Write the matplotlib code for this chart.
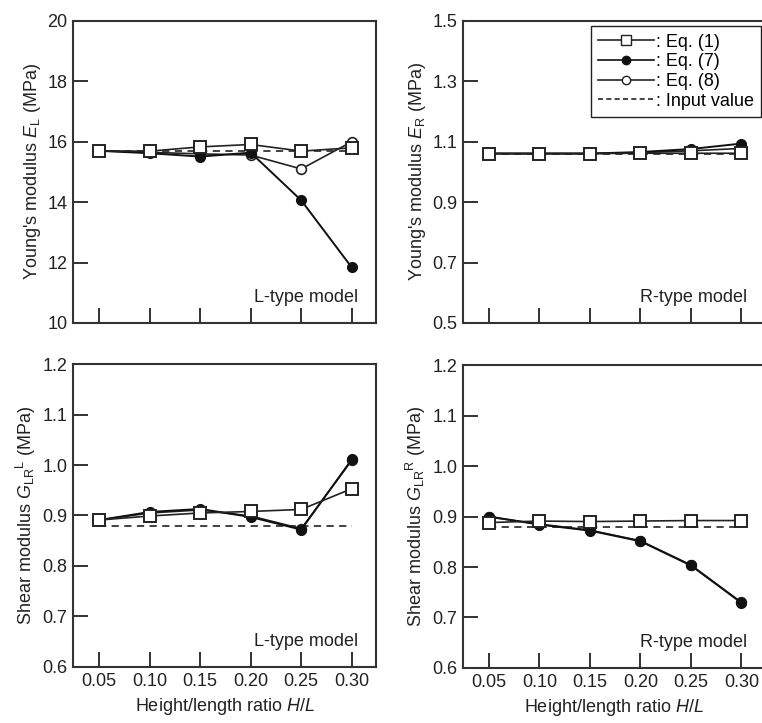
import matplotlib
matplotlib.use('Agg')
import matplotlib.pyplot as plt
from matplotlib.lines import Line2D

plt.rcParams['font.family'] = ['Liberation Sans', 'DejaVu Sans']
plt.rcParams['mathtext.fontset'] = 'custom'
plt.rcParams['mathtext.rm'] = 'Liberation Sans'
plt.rcParams['mathtext.it'] = 'Liberation Sans:italic'
plt.rcParams['font.size'] = 13

# Height/length ratio H/L
hl = [0.05, 0.10, 0.15, 0.20, 0.25, 0.30]

# Young's modulus E_L, L-type model (MPa)
el_eq1 = [15.69, 15.69, 15.83, 15.91, 15.69, 15.80]
el_eq7 = [15.70, 15.62, 15.51, 15.64, 14.06, 11.84]
el_eq8 = [15.70, 15.65, 15.60, 15.56, 15.10, 16.00]
el_input = 15.69

# Young's modulus E_R, R-type model (MPa)
er_eq1 = [1.061, 1.061, 1.061, 1.062, 1.062, 1.062]
er_eq7 = [1.061, 1.061, 1.061, 1.066, 1.076, 1.094]
er_eq8 = [1.061, 1.061, 1.061, 1.064, 1.070, 1.078]
er_input = 1.061

# Shear modulus G_LR^L, L-type model (MPa)
gl_eq1 = [0.891, 0.899, 0.905, 0.908, 0.912, 0.953]
gl_eq7 = [0.891, 0.907, 0.913, 0.897, 0.872, 1.011]
gl_eq8 = [0.891, 0.905, 0.911, 0.899, 0.874, 1.009]
gl_input = 0.880

# Shear modulus G_LR^R, R-type model (MPa)
gr_eq1 = [0.888, 0.891, 0.890, 0.891, 0.892, 0.892]
gr_eq7 = [0.900, 0.884, 0.872, 0.851, 0.803, 0.729]
gr_eq8 = [0.899, 0.885, 0.873, 0.852, 0.804, 0.730]
gr_input = 0.880

fig = plt.figure(figsize=(7.62, 7.23), dpi=100)

w, h = 0.3976, 0.4177
ax_el = fig.add_axes([0.0958, 0.5533, w, h])
ax_er = fig.add_axes([0.6072, 0.5533, w, h])
ax_gl = fig.add_axes([0.0958, 0.0775, w, 0.419])
ax_gr = fig.add_axes([0.6072, 0.0761, w, 0.419])

panels = [
    (ax_el, el_eq1, el_eq7, el_eq8, el_input, (10, 20), [10, 12, 14, 16, 18, 20], '%d',
     "Young's modulus $\\mathit{E}_{\\mathrm{L}}$ (MPa)", 'L-type model', False),
    (ax_er, er_eq1, er_eq7, er_eq8, er_input, (0.5, 1.5), [0.5, 0.7, 0.9, 1.1, 1.3, 1.5], '%.1f',
     "Young's modulus $\\mathit{E}_{\\mathrm{R}}$ (MPa)", 'R-type model', False),
    (ax_gl, gl_eq1, gl_eq7, gl_eq8, gl_input, (0.6, 1.2), [0.6, 0.7, 0.8, 0.9, 1.0, 1.1, 1.2], '%.1f',
     "Shear modulus $\\mathit{G}_{\\mathrm{LR}}{}^{\\mathrm{L}}$ (MPa)", 'L-type model', True),
    (ax_gr, gr_eq1, gr_eq7, gr_eq8, gr_input, (0.6, 1.2), [0.6, 0.7, 0.8, 0.9, 1.0, 1.1, 1.2], '%.1f',
     "Shear modulus $\\mathit{G}_{\\mathrm{LR}}{}^{\\mathrm{R}}$ (MPa)", 'R-type model', True),
]

for ax, eq1, eq7, eq8, inp, ylim, yticks, fmt, ylab, tag, bottom in panels:
    ax.plot([hl[0], hl[-1]], [inp, inp], color='#333333', ls=(0, (4, 3)), lw=1.3, zorder=1)
    ax.plot(hl, eq8, color='#222222', lw=1.2, marker='o', ms=7, mfc='white', mec='#222222',
            mew=1.2, zorder=2)
    ax.plot(hl, eq7, color='#111111', lw=1.4, marker='o', ms=7, mfc='#111111', mec='#111111',
            zorder=3)
    ax.plot(hl, eq1, color='#222222', lw=1.2, marker='s', ms=9, mfc='white', mec='#222222',
            mew=1.4, zorder=4)

    ax.set_xlim(0.024, 0.324)
    ax.set_ylim(*ylim)
    ax.set_xticks(hl)
    ax.set_yticks(yticks)
    ax.set_yticklabels([fmt % v for v in yticks])
    if bottom:
        ax.set_xticklabels(['%.2f' % v for v in hl])
        ax.set_xlabel('Height/length ratio $\\mathit{H}$/$\\mathit{L}$', labelpad=5,
                      color='#222222')
    else:
        ax.set_xticklabels([])
    ax.tick_params(direction='in', length=11, width=1.3, labelsize=13, pad=4,
                   colors='#222222')
    ax.set_ylabel(ylab, labelpad=3, color='#222222')
    for side in ['top', 'right', 'left', 'bottom']:
        ax.spines[side].set_linewidth(1.5)
        ax.spines[side].set_color('#333333')
    ax.text(0.94, 0.085, tag, transform=ax.transAxes, ha='right', va='center',
            fontsize=13, color='#222222')

handles = [
    Line2D([], [], color='#222222', lw=1.2, marker='s', ms=7, mfc='white', mec='#222222'),
    Line2D([], [], color='#111111', lw=1.2, marker='o', ms=6, mfc='#111111', mec='#111111'),
    Line2D([], [], color='#222222', lw=1.2, marker='o', ms=6, mfc='white', mec='#222222'),
    Line2D([], [], color='#222222', lw=1.2, ls=(0, (3, 2))),
]
labels = [': Eq. (1)', ': Eq. (7)', ': Eq. (8)', ': Input value']
leg = ax_er.legend(handles, labels, loc='upper right', bbox_to_anchor=(0.985, 0.982),
                   borderaxespad=0, fancybox=False, framealpha=1, edgecolor='#222222',
                   handlelength=3.1, handletextpad=0.1, labelspacing=0.15,
                   borderpad=0.4, fontsize=13)
leg.get_frame().set_linewidth(1.0)

fig.savefig('out.png', dpi=100)
